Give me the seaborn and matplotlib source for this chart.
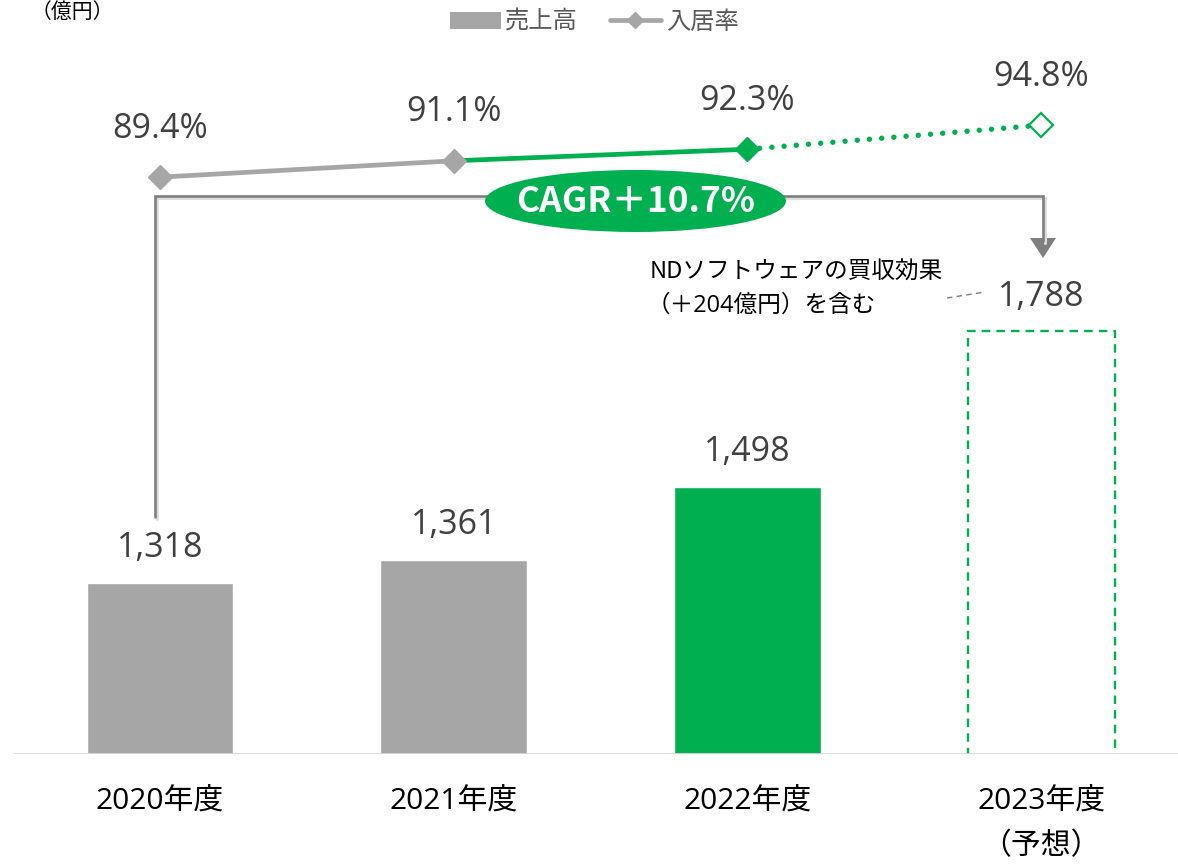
import matplotlib
matplotlib.use("Agg")
import matplotlib.pyplot as plt
from matplotlib.patches import Ellipse, Patch
from matplotlib.lines import Line2D
import seaborn as sns
import pandas as pd

# ---- data ----
years = ["2020年度", "2021年度", "2022年度", "2023年度\n（予想）"]
sales = [1318, 1361, 1498, 1788]          # 売上高（億円）
occupancy = [89.4, 91.1, 92.3, 94.8]      # 入居率（%）
sales_labels = ["1,318", "1,361", "1,498", "1,788"]
occ_labels = ["89.4%", "91.1%", "92.3%", "94.8%"]
cagr_text = "CAGR＋10.7%"
note_lines = ["NDソフトウェアの買収効果", "（＋204億円）を含む"]
unit_text = "（億円）"
legend_labels = ["売上高", "入居率"]

GRAY = "#A6A6A6"
GREEN = "#00B050"
DARK = "#404040"
LINEGRAY = "#7F7F7F"

sns.set_theme(style="white")
plt.rcParams["font.family"] = ["Noto Sans CJK JP", "DejaVu Sans"]
MIXED = ["Open Sans", "Noto Sans CJK JP", "DejaVu Sans"]

W, H = 1178, 864
fig = plt.figure(figsize=(W / 100, H / 100), dpi=100)


def px(x, y):
    """pixel position (from top-left) -> figure fraction"""
    return x / W, 1 - y / H


ax = fig.add_axes([0, 110 / H, 1, 714 / H])
df = pd.DataFrame({"year": years, "sales": sales})
sns.barplot(data=df, x="year", y="sales", hue="year",
            palette=[GRAY, GRAY, GREEN, "white"], legend=False,
            width=0.5, saturation=1, ax=ax, zorder=2)

# forecast bar: dashed outline only
fc = ax.patches[3]
fc.set_facecolor("none")
fc.set_edgecolor(GREEN)
fc.set_linewidth(1.7)
fc.set_linestyle((0, (3.6, 2.6)))

ax.set_ylim(998, 998 + 714 / 0.535)
ax.set_xlim(-0.545, 3.466)
for s in ax.spines.values():
    s.set_visible(False)
ax.set_yticks([])
ax.set_xlabel("")
ax.set_ylabel("")
ax.axhline(998, xmin=14 / W, xmax=1, color="#D9D9D9", lw=2, zorder=5)
ax.set_xticks(range(len(years)))
ax.set_xticklabels(years, fontsize=21.5, color="black", linespacing=1.72,
                   family=MIXED)
ax.tick_params(axis="x", length=0, pad=24)

for i, (v, t) in enumerate(zip(sales, sales_labels)):
    ax.annotate(t, (i, v), xytext=(0, 25), textcoords="offset points",
                ha="center", va="center", fontsize=24.5, color=DARK,
                family=MIXED)

# occupancy rate on secondary axis
ax2 = ax.twinx()
ax2.set_ylim(29.5, 29.5 + 714 / 9.63)
ax2.set_yticks([])
for s in ax2.spines.values():
    s.set_visible(False)

xs = list(range(len(years)))
sns.lineplot(x=xs[0:2], y=occupancy[0:2], color=GRAY, lw=3.4, ax=ax2, sort=False)
sns.lineplot(x=xs[1:3], y=occupancy[1:3], color=GREEN, lw=3.4, ax=ax2, sort=False)
sns.lineplot(x=xs[2:4], y=occupancy[2:4], color=GREEN, lw=3.9, ax=ax2, sort=False)
dotted = ax2.lines[-1]
dotted.set_linestyle((0, (0.01, 2.25)))
dotted.set_dash_capstyle("round")

ax2.plot(xs[0:2], occupancy[0:2], ls="none", marker="D", ms=12.5,
         mfc=GRAY, mec=GRAY, zorder=4)
ax2.plot(xs[2], occupancy[2], ls="none", marker="D", ms=12.5,
         mfc=GREEN, mec=GREEN, zorder=4)
ax2.plot(xs[3], occupancy[3], ls="none", marker="D", ms=12.5,
         mfc="white", mec=GREEN, mew=1.6, zorder=4)
ax2.set_xlim(-0.545, 3.466)

for i, (v, t) in enumerate(zip(occupancy, occ_labels)):
    ax2.annotate(t, (i, v), xytext=(0, 35), textcoords="offset points",
                 ha="center", va="center", fontsize=24.5, color=DARK,
                 family=MIXED)

# CAGR bracket with arrow
def fline(xs_, ys_, **kw):
    fx, fy = zip(*[px(x, y) for x, y in zip(xs_, ys_)])
    fig.add_artist(Line2D(fx, fy, transform=fig.transFigure, **kw))

fline([157, 157, 1045, 1045], [519, 198, 198, 243], color="#DDDDDD", lw=2.2,
      solid_joinstyle="miter")
fline([155, 155, 1043, 1043], [517, 196, 196, 241], color=LINEGRAY, lw=1.9,
      solid_joinstyle="miter")
fig.add_artist(plt.Polygon([px(1030, 238), px(1056, 238), px(1043, 258)],
                           closed=True, transform=fig.transFigure,
                           facecolor=LINEGRAY, edgecolor="none"))

cx, cy = px(635.5, 201)
fig.add_artist(Ellipse((cx, cy), 301 / W, 62 / H, transform=fig.transFigure,
                       facecolor=GREEN, edgecolor="none", zorder=6))
fig.text(cx, cy, cagr_text, ha="center", va="center", color="white",
         fontsize=25.5, fontweight="bold", zorder=7)

# acquisition note
x0, y0 = px(650, 272)
fig.text(x0, y0, note_lines[0], ha="left", va="center", fontsize=17, color="black")
x1, y1 = px(647, 306)
fig.text(x1, y1, note_lines[1], ha="left", va="center", fontsize=17,
         color="black", family=MIXED)
fline([947, 985], [298, 292], color=LINEGRAY, lw=1.0, linestyle=(0, (4, 3)))

# legend
handles = [Patch(facecolor=GRAY, edgecolor="none"),
           Line2D([], [], color=GRAY, lw=3.4, marker="D", ms=8)]
fig.legend(handles, legend_labels, loc="center", bbox_to_anchor=px(594, 22),
           ncol=2, frameon=False, fontsize=17.5, labelcolor="#595959",
           handlelength=2.1, handletextpad=0.2, columnspacing=1.3)

# unit label
ux, uy = px(72, 12)
fig.text(ux, uy, unit_text, ha="center", va="center", fontsize=15, color="black")

fig.savefig("out.png", dpi=100)
